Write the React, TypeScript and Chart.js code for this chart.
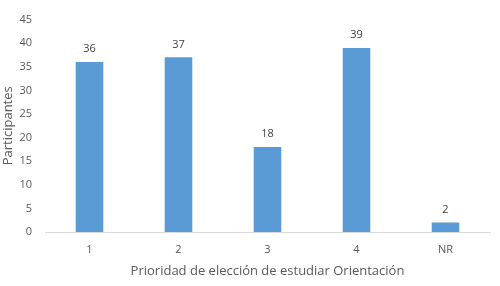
import React, { useEffect, useRef } from "react";
import { Chart, registerables } from "chart.js";

Chart.register(...registerables);

const categories = ["1", "2", "3", "4", "NR"];
const participantes = [36, 37, 18, 39, 2];
const yTicks = [0, 5, 10, 15, 20, 25, 30, 35, 40, 45];

const FONT = "'Open Sans', sans-serif";

const labelPlugin = {
  id: "barLabels",
  afterDatasetsDraw(chart: any) {
    const ctx = chart.ctx;
    const meta = chart.getDatasetMeta(0);
    ctx.save();
    ctx.font = `11px ${FONT}`;
    ctx.fillStyle = "#404040";
    ctx.textAlign = "center";
    ctx.textBaseline = "middle";
    meta.data.forEach((bar: any, i: number) => {
      ctx.fillText(String(chart.data.datasets[0].data[i]), bar.x, bar.y - 13);
    });
    ctx.restore();
  },
};

export default function App() {
  const ref = useRef<HTMLCanvasElement>(null);
  useEffect(() => {
    document.body.style.margin = "0";
    const chart = new Chart(ref.current!, {
      type: "bar",
      data: {
        labels: categories,
        datasets: [
          {
            data: participantes,
            backgroundColor: "#5B9BD5",
            categoryPercentage: 1,
            barPercentage: 0.31,
          },
        ],
      },
      options: {
        animation: false,
        responsive: false,
        layout: { padding: { top: 18, right: 10, left: 0, bottom: 7 } },
        plugins: { legend: { display: false }, tooltip: { enabled: false } },
        scales: {
          x: {
            grid: { display: false, drawTicks: false },
            border: { display: true, color: "#d9d9d9", width: 1 },
            ticks: { color: "#595959", font: { family: FONT, size: 11 }, padding: 11 },
            title: {
              display: true,
              text: "Prioridad de elección de estudiar Orientación",
              color: "#595959",
              font: { family: FONT, size: 13 },
              padding: { top: 4, bottom: 0 },
            },
            afterFit: (s: any) => {
              s.height = 47;
            },
          },
          y: {
            min: 0,
            max: 45,
            afterBuildTicks: (s: any) => {
              s.ticks = yTicks.map((v) => ({ value: v }));
            },
            grid: { display: false, drawTicks: false },
            border: { display: false },
            ticks: { color: "#595959", font: { family: FONT, size: 11 }, padding: 13 },
            title: {
              display: true,
              text: "Participantes",
              color: "#595959",
              font: { family: FONT, size: 13 },
              padding: 0,
            },
            afterFit: (s: any) => {
              s.width = 45;
            },
          },
        },
      },
      plugins: [labelPlugin],
    });
    return () => chart.destroy();
  }, []);
  return (
    <div style={{ position: "absolute", left: 0, top: 0, width: 500, height: 286 }}>
      <canvas ref={ref} width={500} height={286} />
    </div>
  );
}
